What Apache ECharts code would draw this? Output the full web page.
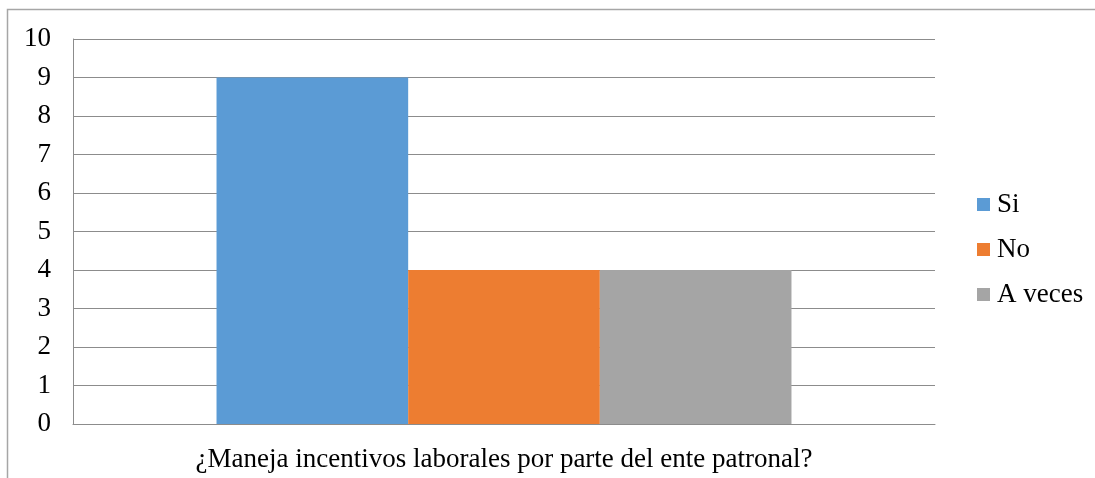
<!DOCTYPE html>
<html>
<head>
<meta charset="utf-8">
<style>
  html, body { margin: 0; padding: 0; background: #fff; }
  #chart { width: 1095px; height: 478px; }
</style>
<script src="https://cdn.jsdelivr.net/npm/echarts@6/dist/echarts.min.js"></script>
</head>
<body>
<div id="chart"></div>
<script>
// data
const categories = ["¿Maneja incentivos laborales por parte del ente patronal?"];
const seriesNames = ["Si", "No", "A veces"];
const seriesValues = [[9], [4], [4]];
const seriesColors = ["#5B9BD5", "#ED7D31", "#A5A5A5"];
const yTicks = { min: 0, max: 10, interval: 1 };

const font = "Liberation Serif";
const fontSize = 27;
const chart = echarts.init(document.getElementById("chart"));

chart.setOption({
  animation: false,
  textStyle: { fontFamily: font },
  graphic: [{
    type: "rect",
    shape: { x: 7.5, y: 9.5, width: 1200, height: 600 },
    style: { fill: "none", stroke: "#a6a6a6", lineWidth: 1.5 },
    silent: true
  }],
  grid: { left: 73, right: 160, top: 39, bottom: 54 },
  legend: {
    orient: "vertical",
    left: 977,
    top: 191,
    itemWidth: 13,
    itemHeight: 13,
    itemGap: 18,
    icon: "rect",
    padding: 0,
    textStyle: { fontFamily: font, fontSize: fontSize, color: "#000", padding: [0, 0, 0, 2] },
    data: seriesNames
  },
  xAxis: {
    type: "category",
    data: categories,
    axisLine: { show: true, lineStyle: { color: "#8c8c8c", width: 1 } },
    axisTick: { show: false },
    axisLabel: { color: "#000", fontSize: fontSize, fontFamily: font, margin: 22 }
  },
  yAxis: {
    type: "value",
    min: yTicks.min,
    max: yTicks.max,
    interval: yTicks.interval,
    axisLine: { show: true, lineStyle: { color: "#8c8c8c", width: 1 } },
    axisTick: { show: false },
    splitLine: { lineStyle: { color: "#8c8c8c", width: 1 } },
    axisLabel: { color: "#000", fontSize: fontSize, fontFamily: font, margin: 22 }
  },
  series: seriesNames.map((name, i) => ({
    name: name,
    type: "bar",
    data: seriesValues[i],
    itemStyle: { color: seriesColors[i] },
    barGap: "0%",
    barCategoryGap: "33.3%"
  }))
});
</script>
</body>
</html>
